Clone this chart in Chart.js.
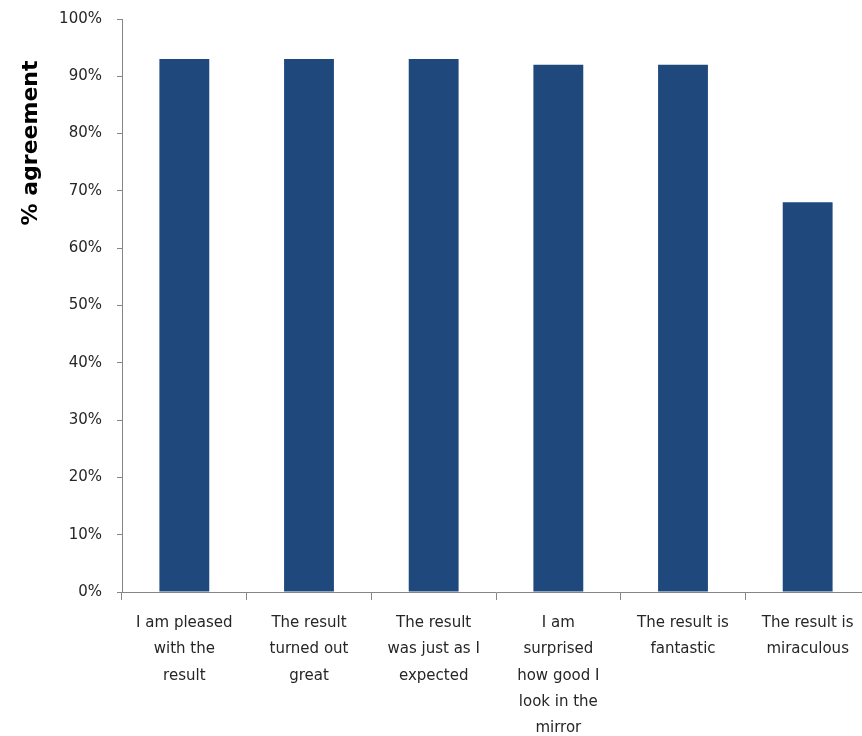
<!DOCTYPE html>
<html>
<head>
<meta charset="utf-8">
<script src="https://cdn.jsdelivr.net/npm/chart.js@4.4.0/dist/chart.umd.min.js"></script>
<style>
  html, body { margin: 0; padding: 0; background: #fff; overflow: hidden; }
  #wrap { width: 870px; height: 736px; position: relative; }
</style>
</head>
<body>
<div id="wrap"><canvas id="myChart"></canvas></div>
<script>
// categories (multi-line labels as drawn under the axis)
var categories = [
  ['I am pleased', 'with the', 'result'],
  ['The result', 'turned out', 'great'],
  ['The result', 'was just as I', 'expected'],
  ['I am', 'surprised', 'how good I', 'look in the', 'mirror'],
  ['The result is', 'fantastic'],
  ['The result is', 'miraculous']
]
// % agreement
var agreement = [93, 93, 93, 92, 92, 68]
var yTicks = [0, 10, 20, 30, 40, 50, 60, 70, 80, 90, 100]

var axisGray = '#868686'
var textGray = '#262626'

// rotated y title sits near the top, not centred on the axis
var yTitle = {
  id: 'yTitle',
  afterDraw: function (chart) {
    var c = chart.ctx
    c.save()
    c.translate(31, 143)
    c.rotate(-Math.PI / 2)
    c.font = 'bold 22px "DejaVu Sans"'
    c.fillStyle = '#000'
    c.textAlign = 'center'
    c.textBaseline = 'middle'
    c.fillText('% agreement', 0, 0)
    c.restore()
  }
}

const ctx = document.getElementById('myChart')
new Chart(ctx, {
  type: 'bar',
  data: {
    labels: categories,
    datasets: [{
      label: '% agreement',
      data: agreement,
      backgroundColor: '#1f497d',
      borderWidth: 0,
      barPercentage: 0.4,
      categoryPercentage: 1
    }]
  },
  options: {
    responsive: true,
    maintainAspectRatio: false,
    animation: false,
    layout: { padding: { left: 0, top: 19, right: 0, bottom: 0 } },
    plugins: {
      legend: { display: false },
      tooltip: { enabled: false }
    },
    scales: {
      y: {
        min: 0,
        max: 100,
        afterBuildTicks: function (scale) {
          scale.ticks = yTicks.map(function (v) { return { value: v } })
        },
        afterFit: function (scale) {
          scale.width = 122
          scale.paddingTop = 0
          scale.paddingBottom = 0
        },
        border: { color: axisGray, width: 1 },
        grid: { drawOnChartArea: false, color: axisGray, tickLength: 5 },
        ticks: {
          color: textGray,
          padding: 15,
          font: { family: 'DejaVu Sans', size: 15 },
          callback: function (v) { return v + '%' }
        }
      },
      x: {
        afterFit: function (scale) {
          scale.height = 736 - 592
          scale.paddingLeft = 0
          scale.paddingRight = 0
        },
        border: { color: axisGray, width: 1 },
        grid: { drawOnChartArea: false, color: axisGray, tickLength: 8 },
        ticks: {
          color: textGray,
          padding: 10,
          maxRotation: 0,
          autoSkip: false,
          font: { family: 'DejaVu Sans', size: 15, lineHeight: 1.75 }
        }
      }
    }
  },
  plugins: [yTitle]
})
</script>
</body>
</html>
